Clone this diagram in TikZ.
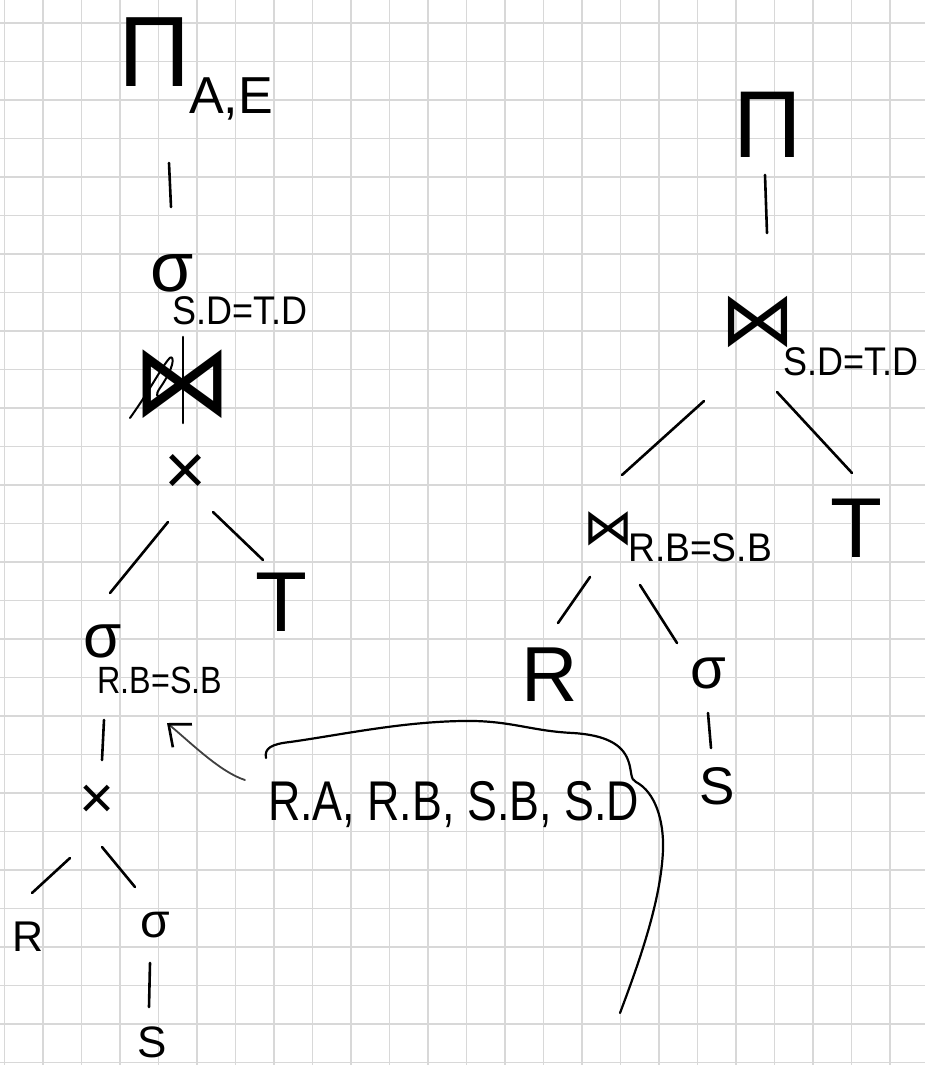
\documentclass[tikz,border=0pt]{standalone}
\usepackage{fontspec}
\setmainfont{Liberation Sans}
\newfontfamily\djv{DejaVu Sans}
\usepackage{graphicx}
\usetikzlibrary{arrows.meta}
\definecolor{gridc}{RGB}{216,216,216}
\tikzset{
  lab/.style={inner sep=0pt, outer sep=0pt, text=black},
  fs/.style={font=\fontsize{#1}{#1}\selectfont},
  stroke/.style={line width=2.6pt, line cap=round, line join=round, black},
  arr/.style={line width=1.8pt, line cap=round, black!75, -{Straight Barb[length=18pt,width=30pt,line width=2.6pt,black]}},
  gridline/.style={gridc, line width=1.2pt}
}
\begin{document}
\begin{tikzpicture}[x=1pt,y=-1pt]
\useasboundingbox (0,0) rectangle (925,1065);
\fill[white] (0,0) rectangle (925,1065);
\foreach \i in {0,...,23} \draw[gridline] ({4.5+38.5*\i},0) -- ({4.5+38.5*\i},1065);
\foreach \j in {0,...,27} \draw[gridline] (0,{23+38.5*\j}) -- (925,{23+38.5*\j});

% ---------- left tree ----------
\node[lab, fs=100] (piL) at (155,52) {Π};
\node[lab, fs=52] (subAE) at (231,99) {A,E};
\node[lab, fs=70] (sigL) at (172,273) {σ};
\node[lab, fs=40] (condL) at (240,311) {\scalebox{.9}[1]{S.D=T.D}};
\node[lab, fs=100] (bowL) at (182,384) {\djv ⋈};
\node[lab, fs=72] (crossL) at (186,474) {×};
\node[lab, fs=85] (TL) at (281,602) {T};
\node[lab, fs=62] (sigL2) at (103,641) {σ};
\node[lab, fs=38] (condL2) at (160,680) {\scalebox{.85}[1]{R.B=S.B}};
\node[lab, fs=60] (crossL2) at (97,802) {×};
\node[lab, fs=43] (RL) at (28,937) {R};
\node[lab, fs=48] (sigL3) at (155,925) {σ};
\node[lab, fs=44] (SL) at (152,1042) {S};

% edges left
\coordinate (eA1) at (169,163); \coordinate (eA2) at (171,207);
\coordinate (eB1) at (168,522); \coordinate (eB2) at (110,593);
\coordinate (eC1) at (213,512); \coordinate (eC2) at (263,560);
\coordinate (eD1) at (104,720); \coordinate (eD2) at (102,760);
\coordinate (eE1) at (70,858);  \coordinate (eE2) at (32,893);
\coordinate (eF1) at (102,847); \coordinate (eF2) at (135,887);
\coordinate (eG1) at (150,963); \coordinate (eG2) at (149,1007);
\draw[stroke] (eA1) -- (eA2);
\draw[stroke] (eB1) -- (eB2);
\draw[stroke] (eC1) -- (eC2);
\draw[stroke] (eD1) -- (eD2);
\draw[stroke] (eE1) -- (eE2);
\draw[stroke] (eF1) -- (eF2);
\draw[stroke] (eG1) -- (eG2);

% strike-out of the bowtie
\coordinate (stT) at (183,337); \coordinate (stB) at (183,423);
\draw[stroke] (stT) -- (stB);
\draw[stroke, line width=2pt] (130,418) .. controls (150,390) and (160,370) .. (168,360)
  .. controls (173,352) and (178,362) .. (160,388)
  .. controls (150,402) and (165,400) .. (200,372);

% ---------- centre list ----------
\node[lab, fs=56, anchor=base west] (list) at (268,820) {\scalebox{.8}[1]{R.A, R.B, S.B, S.D}};
\coordinate (arrTail) at (245,780);
\coordinate (arrTip) at (167,723);
\draw[arr] (arrTail) .. controls (220,772) and (190,742) .. (arrTip);
\coordinate (brA) at (266,758);
\coordinate (brZ) at (620,1013);
\draw[stroke, line width=2.2pt] (brA) .. controls (264,748) and (272,744) .. (290,742)
  .. controls (340,735) and (400,722) .. (462,721)
  .. controls (510,720) and (530,731) .. (573,733)
  .. controls (605,735) and (622,744) .. (628,760)
  .. controls (632,770) and (630,780) .. (636,782)
  .. controls (655,792) and (664,820) .. (663,850)
  .. controls (661,900) and (640,960) .. (brZ);

% ---------- right tree ----------
\node[lab, fs=95] (piR) at (768,125) {Π};
\node[lab, fs=75] (bowR) at (758,322) {\djv ⋈};
\node[lab, fs=40] (condR) at (851,362) {\scalebox{.9}[1]{S.D=T.D}};
\node[lab, fs=85] (TR) at (856,528) {T};
\node[lab, fs=50] (bowR2) at (608,529) {\djv ⋈};
\node[lab, fs=40] (condR2) at (700,548) {\scalebox{.93}[1]{R.B=S.B}};
\node[lab, fs=78] (RR) at (550,675) {R};
\node[lab, fs=58] (sigR) at (708,673) {σ};
\node[lab, fs=53] (SR) at (717,786) {S};

\coordinate (eH1) at (765,175); \coordinate (eH2) at (767,233);
\coordinate (eI1) at (704,401); \coordinate (eI2) at (622,475);
\coordinate (eJ1) at (777,392); \coordinate (eJ2) at (852,473);
\coordinate (eK1) at (590,577); \coordinate (eK2) at (558,623);
\coordinate (eL1) at (640,585); \coordinate (eL2) at (677,643);
\coordinate (eM1) at (708,713); \coordinate (eM2) at (711,748);
\draw[stroke] (eH1) -- (eH2);
\draw[stroke] (eI1) -- (eI2);
\draw[stroke] (eJ1) -- (eJ2);
\draw[stroke] (eK1) -- (eK2);
\draw[stroke] (eL1) -- (eL2);
\draw[stroke] (eM1) -- (eM2);
\end{tikzpicture}
\end{document}
